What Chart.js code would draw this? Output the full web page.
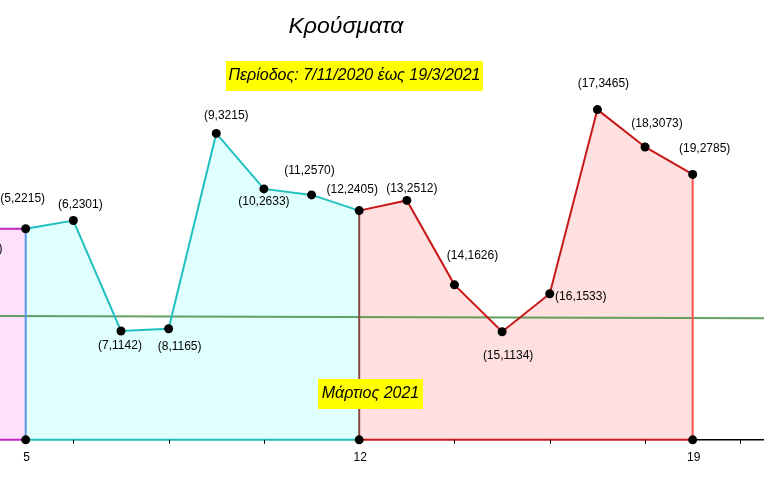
<!DOCTYPE html>
<html>
<head>
<meta charset="utf-8">
<script src="https://cdn.jsdelivr.net/npm/chart.js@4"></script>
<style>
    body { margin: 0; background: #fff; }
    #wrap { width: 764px; height: 479px; position: relative; }
</style>
</head>
<body>
<div id="wrap"><canvas id="Chart"></canvas></div>
<script>
// data
const days = [4, 5, 6, 7, 8, 9, 10, 11, 12, 13, 14, 15, 16, 17, 18, 19];
const cases = [2215, 2215, 2301, 1142, 1165, 3215, 2633, 2570, 2405, 2512, 1626, 1134, 1533, 3465, 3073, 2785];
const trendX = [4, 21];
const trendY = [1300, 1274];
const tickValues = [6, 8, 10, 12, 14, 16, 18, 20];
const tickLabels = [5, 12, 19];
const titleText = 'Κρούσματα';
const periodText = 'Περίοδος: 7/11/2020 έως 19/3/2021';
const monthText = 'Μάρτιος 2021';

// label offsets (px) from each point, same order as days
const labelOffsets = [
    [2, 20], [-3, -30], [7, -16], [-1, 15], [11, 18], [10, -18], [0, 13], [-2, -24],
    [-7, -21], [5, -12], [18, -29], [6, 24], [31, 3], [6, -26], [12, -23], [12, -26]
];

const FONT = '"Liberation Sans", Arial, sans-serif';

function pts(from, to) {
    let out = [];
    for (let i = 0; i < days.length; i++) {
        if (days[i] >= from && days[i] <= to) out.push({x: days[i], y: cases[i]});
    }
    return out;
}
function valueAt(d) {
    return cases[days.indexOf(d)];
}
function seg(x1, y1, x2, y2) {
    return [{x: x1, y: y1}, {x: x2, y: y2}];
}

function lineSet(data, color, width, order) {
    return {
        data: data,
        borderColor: color,
        borderWidth: width,
        pointRadius: 0,
        fill: false,
        tension: 0,
        order: order
    };
}
function fillSet(data, color) {
    return {
        data: data,
        borderColor: 'rgba(0,0,0,0)',
        borderWidth: 0,
        backgroundColor: color,
        pointRadius: 0,
        fill: 'origin',
        tension: 0,
        order: 50
    };
}

const xMin = 4.4605, xMax = 20.497;

const overlay = {
    id: 'overlay',
    afterDraw(chart) {
        const ctx = chart.ctx;
        const xs = chart.scales.x, ys = chart.scales.y;
        const y0 = ys.getPixelForValue(0);
        ctx.save();

        // tick marks + labels
        ctx.strokeStyle = '#000';
        ctx.lineWidth = 1;
        tickValues.forEach(v => {
            const px = Math.round(xs.getPixelForValue(v)) + 0.5;
            ctx.beginPath();
            ctx.moveTo(px, y0);
            ctx.lineTo(px, y0 + 4);
            ctx.stroke();
        });
        ctx.fillStyle = '#000';
        ctx.font = '12px ' + FONT;
        ctx.textAlign = 'center';
        ctx.textBaseline = 'middle';
        tickLabels.forEach(v => {
            ctx.fillText(String(v), xs.getPixelForValue(v) + 1, y0 + 18);
        });

        // point labels
        for (let i = 0; i < days.length; i++) {
            const px = xs.getPixelForValue(days[i]);
            const py = ys.getPixelForValue(cases[i]);
            ctx.fillText('(' + days[i] + ',' + cases[i] + ')', px + labelOffsets[i][0], py + labelOffsets[i][1]);
        }

        // title
        ctx.font = 'italic 23px ' + FONT;
        ctx.fillText(titleText, 346, 27);

        // yellow boxes
        function box(text, cx, cy, w, h) {
            ctx.fillStyle = '#ffff00';
            ctx.fillRect(cx - w / 2, cy - h / 2, w, h);
            ctx.fillStyle = '#000';
            ctx.font = 'italic 16px ' + FONT;
            ctx.fillText(text, cx, cy);
        }
        box(periodText, 354.5, 76, 257, 30);
        box(monthText, 370.5, 394, 105, 30);

        ctx.restore();
    }
};

const datasets = [
    // black dots on top
    {
        data: pts(4, 19).concat([{x: 5, y: 0}, {x: 12, y: 0}, {x: 19, y: 0}]),
        showLine: false,
        pointRadius: 4.5,
        pointBackgroundColor: '#000',
        pointBorderColor: '#000',
        pointBorderWidth: 0,
        order: 1
    },
    lineSet(seg(5, 0, 5, valueAt(5)), 'rgb(90,150,230)', 2, 2),
    lineSet(seg(12, 0, 12, valueAt(12)), 'rgb(140,70,70)', 2, 2),
    lineSet(seg(19, 0, 19, valueAt(19)), 'rgb(255,80,80)', 2, 2),
    lineSet(pts(4, 5), 'rgb(192,40,192)', 2, 3),
    lineSet(pts(5, 12), 'rgb(32,192,192)', 2, 3),
    lineSet(pts(12, 19), 'rgb(200,24,24)', 2, 3),
    lineSet(seg(xMin - 1, 0, 5, 0), 'rgb(192,40,192)', 2, 4),
    lineSet(seg(5, 0, 12, 0), 'rgb(32,192,192)', 2, 4),
    lineSet(seg(12, 0, 19, 0), 'rgb(200,24,24)', 2, 4),
    lineSet(seg(19, 0, xMax + 1, 0), '#000', 1.5, 5),
    lineSet(seg(trendX[0], trendY[0], trendX[1], trendY[1]), 'rgba(70,145,70,0.85)', 2, 10),
    fillSet([{x: 3, y: valueAt(4)}].concat(pts(4, 5)), 'rgb(253,224,252)'),
    fillSet(pts(5, 12), 'rgb(224,255,255)'),
    fillSet(pts(12, 19), 'rgb(255,224,224)')
];

new Chart(document.getElementById('Chart').getContext('2d'), {
    type: 'line',
    data: { datasets: datasets },
    options: {
        animation: false,
        responsive: true,
        maintainAspectRatio: false,
        layout: { padding: 0, autoPadding: false },
        plugins: {
            legend: { display: false },
            tooltip: { enabled: false },
            title: { display: false }
        },
        scales: {
            x: { type: 'linear', min: xMin, max: xMax, display: false },
            y: { type: 'linear', min: -411, max: 4615, display: false }
        }
    },
    plugins: [overlay]
});
</script>
</body>
</html>
